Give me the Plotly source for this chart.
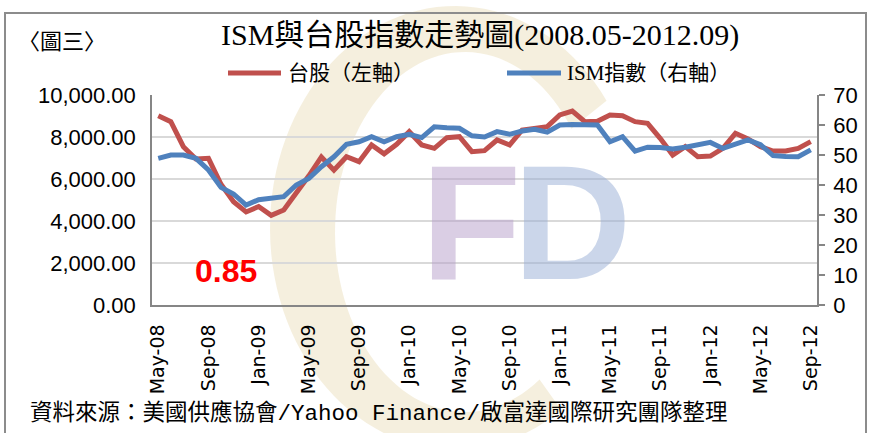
import numpy as np
import pandas as pd
import plotly.graph_objects as go

# ---------------- data ----------------
months = list(pd.period_range("2008-05", "2012-09", freq="M").strftime("%b-%y"))
tick_labels = months[::4]

taiex = [9016, 8730, 7540, 6952, 6984, 5750, 4921, 4430, 4690, 4270,
         4520, 5300, 6150, 7050, 6420, 7063, 6825, 7619, 7200, 7650,
         8254, 7619, 7460, 7968, 8016, 7302, 7350, 7857, 7619, 8333,
         8413, 8492, 9048, 9238, 8730, 8745, 9048, 9016, 8730, 8651,
         7937, 7143, 7540, 7063, 7095, 7460, 8175, 7905, 7540, 7333,
         7333, 7460, 7778]

ism = [48.9, 50.0, 50.0, 48.9, 45.0, 39.2, 37.0, 33.3, 35.1, 35.7,
       36.1, 40.0, 42.2, 46.1, 49.4, 53.6, 54.4, 56.1, 54.4, 56.1,
       56.9, 55.8, 59.4, 59.1, 58.9, 56.4, 56.0, 57.8, 56.9, 58.0,
       58.6, 57.6, 60.0, 60.2, 60.0, 60.0, 54.4, 56.1, 51.3, 52.6,
       52.5, 52.0, 52.6, 53.6, 54.2, 52.2, 53.4, 55.0, 53.4, 49.8,
       49.5, 49.4, 51.7]

name_taiex = "台股（左軸）"
name_ism = "ISM指數（右軸）"
title_text = "ISM與台股指數走勢圖(2008.05-2012.09)"
fig_label = "〈圖三〉"
corr_text = "0.85"
source_text = "資料來源：美國供應協會/Yahoo Finance/啟富達國際研究團隊整理"

RED = "#C0504D"
BLUE = "#4F81BD"
AXIS = "#868686"

W, H = 869, 433
L, R, T, B = 152, 52, 95, 128
PW, PH = W - L - R, H - T - B


def px(xp):
    return (xp - L) / PW


def py(yp):
    return (H - B - yp) / PH


fig = go.Figure()
fig.add_trace(go.Scatter(x=months, y=taiex, mode="lines", name=name_taiex,
                         line=dict(color=RED, width=5), yaxis="y"))
fig.add_trace(go.Scatter(x=months, y=ism, mode="lines", name=name_ism,
                         line=dict(color=BLUE, width=5), yaxis="y2"))

# ---------------- watermark "C" ring ----------------
th = np.radians(np.linspace(35, 305, 90))
ox, oy = 455 + 185 * np.cos(th), 228 - 222 * np.sin(th)
ix, iy = 465 + 130 * np.cos(th[::-1]), 232 - 180 * np.sin(th[::-1])
pts = list(zip(np.r_[ox, ix], np.r_[oy, iy]))
path = "M " + " L ".join(f"{px(a):.4f},{py(b):.4f}" for a, b in pts) + " Z"

shapes = [
    dict(type="path", path=path, xref="paper", yref="paper",
         fillcolor="rgba(225,205,155,0.33)", line=dict(width=0), layer="below"),
    # outer frame
    dict(type="rect", xref="paper", yref="paper", x0=px(5), x1=px(866),
         y0=py(445), y1=py(13), line=dict(color="#8C8C8C", width=2)),
    # legend samples
    dict(type="line", xref="paper", yref="paper", x0=px(228), x1=px(281),
         y0=py(73), y1=py(73), line=dict(color=RED, width=5)),
    dict(type="line", xref="paper", yref="paper", x0=px(507), x1=px(561),
         y0=py(73), y1=py(73), line=dict(color=BLUE, width=5)),
]

cjk = "Liberation Serif, Noto Sans CJK TC"
mono = "Liberation Mono, Noto Sans CJK TC"
annotations = [
    dict(text="F", x=px(471), y=py(222), xref="paper", yref="paper",
         showarrow=False, font=dict(family="Liberation Sans", size=164,
                                    color="rgba(182,158,202,0.5)", weight="bold"),
         xanchor="center", yanchor="middle"),
    dict(text="D", x=px(572), y=py(222), xref="paper", yref="paper",
         showarrow=False, font=dict(family="Liberation Sans", size=164,
                                    color="rgba(152,174,214,0.5)", weight="bold"),
         xanchor="center", yanchor="middle"),
    dict(text=title_text, x=px(480), y=py(35), xref="paper", yref="paper",
         showarrow=False, font=dict(family=cjk, size=30, color="black"),
         xanchor="center", yanchor="middle"),
    dict(text=fig_label, x=px(16), y=py(41), xref="paper", yref="paper",
         showarrow=False, font=dict(family=cjk, size=22, color="black"),
         xanchor="left", yanchor="middle"),
    dict(text=name_taiex, x=px(286), y=py(73), xref="paper", yref="paper",
         showarrow=False, font=dict(family=cjk, size=21, color="black"),
         xanchor="left", yanchor="middle"),
    dict(text=name_ism, x=px(565), y=py(73), xref="paper", yref="paper",
         showarrow=False, font=dict(family=cjk, size=21, color="black"),
         xanchor="left", yanchor="middle"),
    dict(text=corr_text, x=px(226), y=py(271), xref="paper", yref="paper",
         showarrow=False, font=dict(family="Liberation Sans", size=32,
                                    color="#FF0000", weight="bold"),
         xanchor="center", yanchor="middle"),
    dict(text=source_text, x=px(28), y=py(413), xref="paper", yref="paper",
         showarrow=False, font=dict(family=mono, size=22.5, color="black"),
         xanchor="left", yanchor="middle"),
]

fig.update_layout(
    width=W, height=H,
    margin=dict(l=L, r=R, t=T, b=B, pad=0),
    paper_bgcolor="white",
    plot_bgcolor="rgba(0,0,0,0)",
    showlegend=False,
    shapes=shapes,
    annotations=annotations,
    xaxis=dict(
        type="category", range=[-0.5, len(months) - 0.5],
        tickmode="array", tickvals=tick_labels, ticktext=tick_labels,
        tickangle=-90, showgrid=False, showline=True, linecolor=AXIS,
        linewidth=1.5, ticks="", ticklabelstandoff=10,
        tickfont=dict(family="DejaVu Sans", size=19, color="black"),
    ),
    yaxis=dict(
        range=[0, 10000], dtick=2000, tickformat=",.2f",
        showgrid=True, gridcolor="#D9D9D9", gridwidth=1.5,
        showline=True, linecolor=AXIS, linewidth=1.5, zeroline=False,
        ticks="", ticklabelstandoff=10,
        tickfont=dict(family="Liberation Sans", size=22, color="black"),
    ),
    yaxis2=dict(
        range=[0, 70], dtick=10, overlaying="y", side="right",
        showgrid=False, showline=True, linecolor=AXIS, linewidth=1.5,
        zeroline=False, ticks="outside", ticklen=6, tickcolor=AXIS,
        tickwidth=1.5, ticklabelstandoff=4,
        tickfont=dict(family="Liberation Sans", size=22, color="black"),
    ),
)

fig.write_html("out.html", config={"displayModeBar": False},
               post_script="document.body.style.margin='0px';")
